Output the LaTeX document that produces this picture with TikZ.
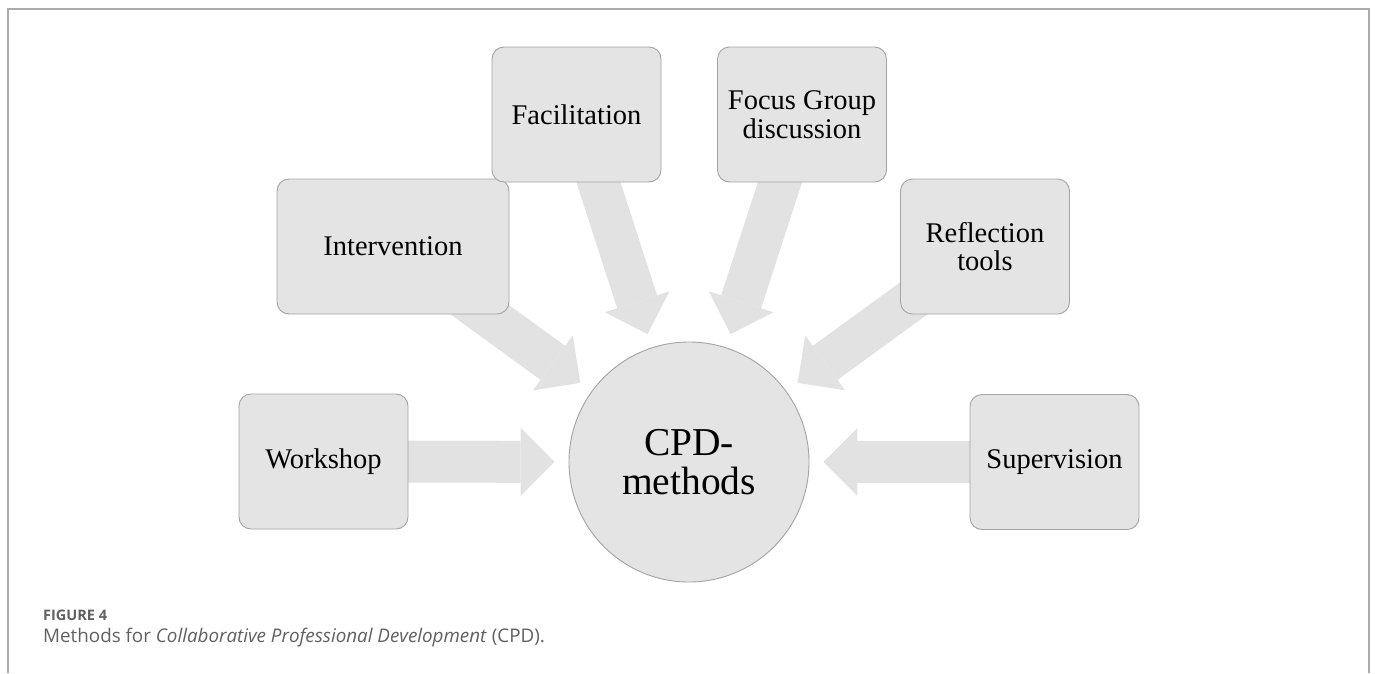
\documentclass[tikz,border=0pt]{standalone}
\usepackage{fontspec}
\setmainfont{Liberation Serif}
\newfontfamily\capfont{Open Sans}
\usetikzlibrary{arrows.meta,backgrounds}

\definecolor{boxfill}{HTML}{E4E4E4}
\definecolor{boxline}{HTML}{A3A3A3}
\definecolor{feedgray}{HTML}{E2E2E2}
\definecolor{framegray}{HTML}{ABABAB}
\definecolor{capgray}{HTML}{606060}

\tikzset{
  method/.style={rectangle, rounded corners=12pt, draw=boxline, line width=0.9pt,
    fill=boxfill, minimum width=169pt, minimum height=135pt, inner sep=0pt,
    align=center, font=\fontsize{28.5}{28.5}\selectfont},
  hub/.style={circle, draw=boxline, line width=0.9pt, fill=boxfill,
    minimum size=240pt, inner sep=0pt, align=center,
    font=\fontsize{39.5}{39}\selectfont},
  feed/.style={color=feedgray, line width=42pt,
    -{Triangle[length=34pt,width=68pt,line width=0pt]}, shorten >=14pt},
}

\begin{document}
\begin{tikzpicture}[x=1pt, y=-1pt]
  \useasboundingbox (0,0) rectangle (1375,673);

  % outer frame, open at the bottom
  \draw[framegray, line width=1.5pt] (8,673) -- (8,9) -- (1369,9) -- (1369,673);

  \node[hub](cpd) at (689,462){CPD-\\methods};

  \node[method](work) at (323.5,461.5){Workshop};
  \node[method, minimum width=232pt](inter) at (393,246.5){Intervention};
  \node[method](facil) at (576.5,114.5){Facilitation};
  \node[method](focus) at (802,114.5){Focus Group\\discussion};
  \node[method](refl) at (985,246.5){Reflection\\tools};
  \node[method](super) at (1054.5,462){Supervision};

  % wide arrows behind the boxes
  \begin{scope}[on background layer]
    \path[feed]
    (work.center) edge (cpd)
    (inter.center) edge (cpd)
    (facil.center) edge (cpd)
    (focus.center) edge (cpd)
    (refl.center) edge (cpd)
    (super.center) edge (cpd);
  \end{scope}

  % caption
  \node[anchor=base west, inner sep=0pt, text=capgray, font=\capfont\fontsize{14.5}{16}\selectfont\bfseries](fig) at (43,620){FIGURE 4};
  \node[anchor=base west, inner sep=0pt, text=capgray, font=\capfont\fontsize{18.8}{20}\selectfont](cap) at (43,642)
    {Methods for \textit{Collaborative Professional Development} (CPD).};
\end{tikzpicture}
\end{document}
